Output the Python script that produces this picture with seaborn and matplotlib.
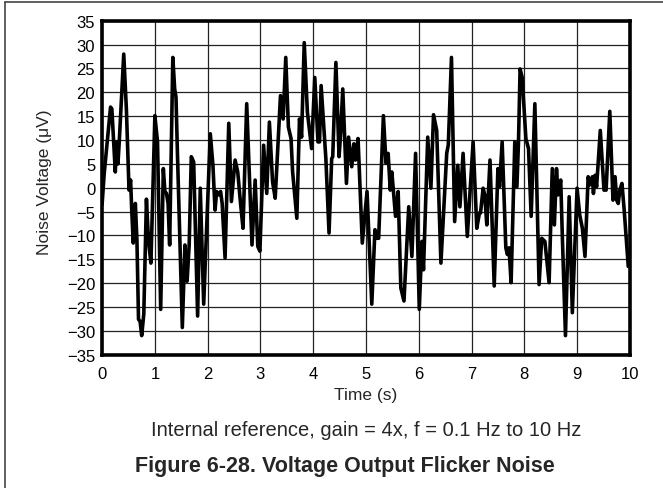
import pandas as pd
import seaborn as sns
import matplotlib.pyplot as plt
from matplotlib.lines import Line2D

# (time in s, noise in uV)
time_s = [0.00, 0.04, 0.16, 0.185, 0.25, 0.275, 0.30, 0.325, 0.41, 0.46,
          0.51, 0.54, 0.56, 0.59, 0.63, 0.66, 0.69, 0.72, 0.75, 0.79,
          0.84, 0.88, 0.925, 1.00, 1.05, 1.11, 1.16, 1.19, 1.22, 1.25,
          1.28, 1.34, 1.375, 1.40, 1.425, 1.52, 1.57, 1.61, 1.65, 1.69,
          1.735, 1.81, 1.86, 1.925, 2.05, 2.10, 2.14, 2.17, 2.21, 2.245,
          2.275, 2.33, 2.40, 2.45, 2.52, 2.57, 2.62, 2.67, 2.74, 2.84,
          2.90, 2.95, 2.99, 3.06, 3.12, 3.17, 3.23, 3.28, 3.38, 3.43,
          3.48, 3.53, 3.58, 3.61, 3.69, 3.74, 3.78, 3.83, 3.89, 3.97,
          4.03, 4.09, 4.12, 4.15, 4.24, 4.30, 4.35, 4.37, 4.43, 4.49,
          4.52, 4.56, 4.63, 4.67, 4.73, 4.77, 4.80, 4.85, 4.93, 5.02,
          5.11, 5.17, 5.21, 5.24, 5.33, 5.38, 5.42, 5.46, 5.49, 5.56,
          5.61, 5.66, 5.72, 5.81, 5.87, 5.94, 6.01, 6.06, 6.09, 6.17,
          6.23, 6.28, 6.34, 6.42, 6.53, 6.56, 6.62, 6.68, 6.74, 6.78,
          6.84, 6.92, 7.03, 7.10, 7.15, 7.17, 7.22, 7.25, 7.29, 7.35,
          7.43, 7.50, 7.53, 7.58, 7.65, 7.68, 7.71, 7.75, 7.82, 7.86,
          7.89, 7.92, 7.96, 8.03, 8.08, 8.13, 8.20, 8.28, 8.33, 8.39,
          8.47, 8.53, 8.57, 8.61, 8.64, 8.69, 8.72, 8.78, 8.85, 8.91,
          9.00, 9.05, 9.10, 9.15, 9.21, 9.24, 9.29, 9.31, 9.34, 9.37,
          9.44, 9.51, 9.55, 9.62, 9.68, 9.72, 9.75, 9.78, 9.81, 9.85,
          9.89, 9.97, 10.00]
noise_uv = [-3.5, 3.0, 16.9, 16.5, 3.3, 9.6, 5.0, 9.6, 28.0, 16.5,
            -0.5, 1.6, -4.3, -11.6, -3.3, -11.0, -27.6, -28.0, -31.0, -26.5,
            -2.4, -11.3, -15.8, 15.1, 9.6, -25.5, 4.0, -0.8, -1.2, -3.3,
            -12.0, 27.3, 20.7, 19.0, 8.2, -29.3, -12.0, -19.6, -12.0, 6.5,
            5.4, -26.9, -0.1, -24.4, 11.3, 4.7, -4.7, -0.8, -1.5, -0.8,
            -3.3, -14.7, 13.5, -2.9, 5.8, 3.3, -2.9, -8.5, 17.6, -12.0,
            1.6, -12.3, -13.3, 8.9, -1.2, 13.75, 1.25, -2.2, 19.3, 14.4,
            27.3, 12.7, 10.3, 3.3, -6.4, 14.4, 10.6, 30.4, 15.8, 8.2,
            23.1, 9.6, 9.6, 21.4, 6.1, -9.5, 6.1, 6.5, 26.25, 6.5,
            11.3, 20.7, 0.9, 10.6, 4.4, 9.2, 5.8, 10.3, -11.6, -0.8,
            -24.4, -8.8, -10.6, -10.6, 15.1, 5.1, 7.2, -0.5, 3.3, -6.0,
            -0.8, -21.0, -23.75, -4.0, -14.4, 7.2, -25.5, -11.25, -17.2, 10.6,
            -0.1, 15.3, 12.0, -15.8, 7.2, 9.0, 27.3, -7.1, 4.7, -4.0,
            7.2, -10.2, 9.6, -8.5, -5.3, -5.3, -0.1, -1.5, -7.8, 5.8,
            -20.6, 4.0, 0.2, 9.6, -12.6, -14.0, -12.6, -19.9, 9.6, 0.2,
            9.6, 24.9, 23.1, 10.3, 8.2, -6.0, 17.6, -20.3, -10.6, -11.25,
            -19.9, 4.0, -7.8, 4.0, -1.5, 1.6, -9.9, -31.0, -1.9, -26.2,
            -0.1, -5.7, -8.5, -14.4, 2.3, 0.6, 2.3, -1.2, 2.6, 0.2,
            12.0, -0.5, -0.5, 16.0, -2.6, 2.3, -2.6, -3.3, -0.5, 0.9,
            -4.3, -16.5, -16.2]

x_ticks = list(range(0, 11))
y_ticks = list(range(-35, 40, 5))

df = pd.DataFrame({"Time": time_s, "Noise": noise_uv})

sns.set_style("white")
plt.rcParams['font.family'] = ['Liberation Sans', 'DejaVu Sans']

fig = plt.figure(figsize=(6.63, 4.89), dpi=100)
ax = fig.add_axes([0.154, 0.2726, 0.796, 0.683])

sns.lineplot(data=df, x="Time", y="Noise", ax=ax, color="black",
             linewidth=2.6, sort=False, estimator=None)

ax.set_xlim(0, 10)
ax.set_ylim(-35, 35)
ax.set_xticks(x_ticks)
ax.set_yticks(y_ticks)
ax.tick_params(length=0, labelsize=12, colors="black")
ax.tick_params(axis="y", pad=5)
ax.tick_params(axis="x", pad=8)
ax.grid(True, color="#222222", linewidth=0.9)
for s in ax.spines.values():
    s.set_color("black")
    s.set_linewidth(2.6)

ax.set_xlabel("Time (s)", fontsize=12.5)
ax.set_ylabel("Noise Voltage (\u03bcV)", fontsize=12.5)
ax.xaxis.set_label_coords(0.5, -0.097)
ax.yaxis.set_label_coords(-0.094, 0.52)

fig.text(0.552, 0.12, "Internal reference, gain = 4x, f = 0.1 Hz to 10 Hz",
         ha="center", va="center", fontsize=14.5)
fig.text(0.52, 0.045, "Figure 6-28. Voltage Output Flicker Noise",
         ha="center", va="center", fontsize=15.5, fontweight="bold")

# page frame lines (top and left)
fig.add_artist(Line2D([0.007, 1.0], [0.993, 0.993], transform=fig.transFigure,
                      color="#444444", linewidth=1.2))
fig.add_artist(Line2D([0.007, 0.007], [0.0, 0.993], transform=fig.transFigure,
                      color="#444444", linewidth=1.2))

fig.savefig("out.png", dpi=100)
